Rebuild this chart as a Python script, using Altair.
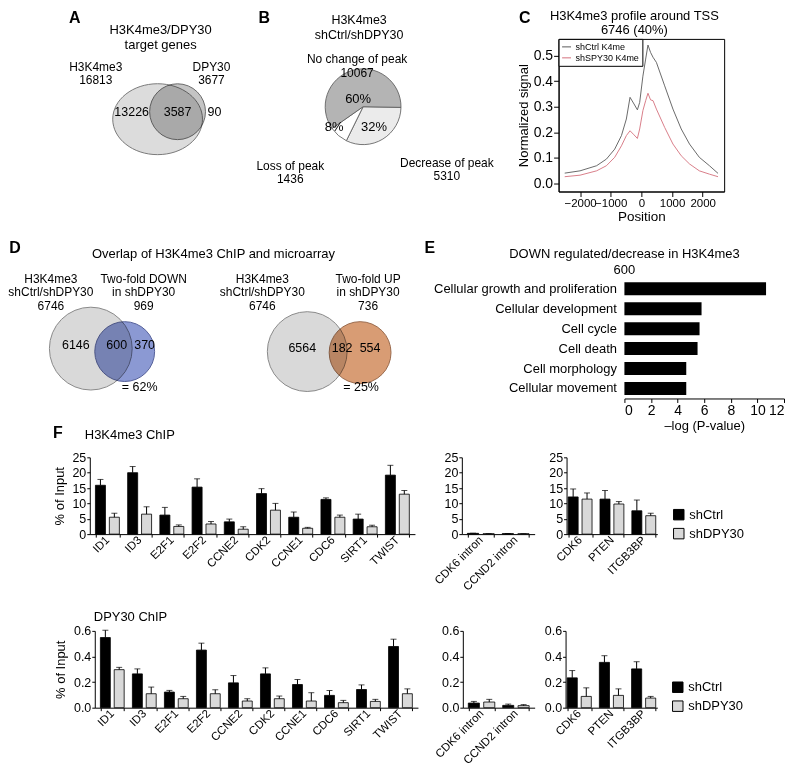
import math
import altair as alt
import pandas as pd

FONT = "Liberation Sans"

# ---------------- data ----------------
# Panel A
a_title = ["H3K4me3/DPY30", "target genes"]
a_sets = ["H3K4me3", "DPY30"]
a_totals = [16813, 3677]
a_regions = [13226, 3587, 90]

# Panel B
b_title = ["H3K4me3", "shCtrl/shDPY30"]
b_cats = ["Decrease of peak", "Loss of peak", "No change of peak"]
b_counts = [5310, 1436, 10067]
b_pct = [32, 8, 60]

# Panel C
c_title = ["H3K4me3 profile around TSS", "6746 (40%)"]
c_series = ["shCtrl K4me", "shSPY30 K4me"]
c_pos = [-2500, -2000, -1460, -1140, -870, -650, -490, -370, -240, -130, -55, 50,
         140, 215, 300, 380, 490, 760, 1030, 1300, 1570, 1890, 2220, 2500]
c_ctrl = [0.040, 0.049, 0.069, 0.095, 0.134, 0.187, 0.252, 0.337, 0.311, 0.288, 0.317, 0.420,
          0.487, 0.542, 0.513, 0.494, 0.474, 0.382, 0.291, 0.213, 0.154, 0.102, 0.069, 0.039]
c_sh = [0.026, 0.032, 0.049, 0.069, 0.102, 0.147, 0.187, 0.206, 0.190, 0.176, 0.213, 0.285,
        0.324, 0.353, 0.327, 0.324, 0.291, 0.219, 0.154, 0.108, 0.076, 0.049, 0.036, 0.026]

# Panel D
d_title = "Overlap of H3K4me3 ChIP and microarray"
d_chip = ["H3K4me3", "shCtrl/shDPY30"]
d_chip_total = 6746
d_down = ["Two-fold DOWN", "in shDPY30"]
d_down_total = 969
d_down_regions = [6146, 600, 370]
d_down_pct = 62
d_up = ["Two-fold UP", "in shDPY30"]
d_up_total = 736
d_up_regions = [6564, 182, 554]
d_up_pct = 25

# Panel E
e_title = ["DOWN regulated/decrease in H3K4me3", "600"]
e_terms = ["Cellular growth and proliferation", "Cellular development", "Cell cycle",
           "Cell death", "Cell morphology", "Cellular movement"]
e_vals = [10.65, 5.8, 5.65, 5.5, 4.65, 4.65]

# Panel F
conds = ["shCtrl", "shDPY30"]
f_genes1 = ["ID1", "ID3", "E2F1", "E2F2", "CCNE2", "CDK2", "CCNE1", "CDC6", "SIRT1", "TWIST"]
f_genes2 = ["CDK6 intron", "CCND2 intron"]
f_genes3 = ["CDK6", "PTEN", "ITGB3BP"]

h3_ctrl1 = [15.9, 20.0, 6.2, 15.3, 4.0, 13.2, 5.5, 11.3, 4.9, 19.2]
h3_ctrl1_err = [1.9, 2.0, 2.5, 2.7, 0.9, 1.6, 1.7, 0.5, 1.6, 3.2]
h3_sh1 = [5.5, 6.5, 2.5, 3.3, 1.6, 7.8, 1.9, 5.5, 2.4, 13.0]
h3_sh1_err = [1.3, 2.4, 0.5, 0.8, 0.8, 2.2, 0.3, 0.7, 0.5, 1.2]
h3_ctrl2 = [0.25, 0.15]
h3_ctrl2_err = [0.05, 0.05]
h3_sh2 = [0.12, 0.12]
h3_sh2_err = [0.04, 0.04]
h3_ctrl3 = [12.1, 11.4, 7.6]
h3_ctrl3_err = [2.6, 2.8, 3.5]
h3_sh3 = [11.4, 9.8, 6.0]
h3_sh3_err = [2.0, 0.8, 0.8]

dp_ctrl1 = [0.548, 0.264, 0.122, 0.450, 0.194, 0.264, 0.181, 0.096, 0.142, 0.478]
dp_ctrl1_err = [0.057, 0.039, 0.013, 0.054, 0.057, 0.047, 0.039, 0.038, 0.036, 0.057]
dp_sh1 = [0.297, 0.109, 0.070, 0.109, 0.052, 0.070, 0.052, 0.039, 0.049, 0.109]
dp_sh1_err = [0.018, 0.052, 0.018, 0.031, 0.018, 0.021, 0.065, 0.018, 0.016, 0.038]
dp_ctrl2 = [0.036, 0.018]
dp_ctrl2_err = [0.013, 0.010]
dp_sh2 = [0.044, 0.016]
dp_sh2_err = [0.021, 0.008]
dp_ctrl3 = [0.233, 0.354, 0.303]
dp_ctrl3_err = [0.057, 0.052, 0.056]
dp_sh3 = [0.088, 0.096, 0.075]
dp_sh3_err = [0.067, 0.051, 0.013]

# ---------------- layout (page pixels) ----------------
CANVAS1 = (8, 559, 40, 193)
CANVAS2 = (8, 625, 278, 398)
SPACER3 = (8, 89, 457, 534)
SPACER4 = (8, 94, 630, 707)

ELLIPSE = "M-1,0A1,0.79,0,1,1,1,0A1,0.79,0,1,1,-1,0Z"


def scales(box):
    x0, x1, y0, y1 = box
    xs = alt.Scale(domain=[x0, x1], nice=False, zero=False)
    ys = alt.Scale(domain=[y0, y1], nice=False, zero=False, reverse=True)
    return xs, ys


def text_layer(rows, box, align="center", weight="normal"):
    xs, ys = scales(box)
    df = pd.DataFrame(rows, columns=["text", "x", "y", "fs"])
    return alt.Chart(df).mark_text(align=align, baseline="middle", fontWeight=weight,
                                   color="black", font=FONT).encode(
        x=alt.X("x:Q", scale=xs, axis=None),
        y=alt.Y("y:Q", scale=ys, axis=None),
        text="text:N",
        size=alt.Size("fs:Q", scale=None),
    )


def circle_layer(rows, box, shape="circle", blend=None):
    xs, ys = scales(box)
    df = pd.DataFrame(rows, columns=["x", "y", "d", "fill", "stroke"])
    df["s"] = df["d"] ** 2
    kw = dict(filled=True, opacity=1, strokeWidth=1, shape=shape)
    if blend:
        kw["blend"] = blend
    return alt.Chart(df).mark_point(**kw).encode(
        x=alt.X("x:Q", scale=xs, axis=None),
        y=alt.Y("y:Q", scale=ys, axis=None),
        size=alt.Size("s:Q", scale=None),
        fill=alt.Fill("fill:N", scale=None),
        stroke=alt.Stroke("stroke:N", scale=None),
    )


def lines(items, x, y0, lh, fs):
    return [(t, x, y0 + i * lh, fs) for i, t in enumerate(items)]


# ---------------- canvas 1 : panels A and B ----------------
xs1, ys1 = scales(CANVAS1)
a_big = circle_layer([(157, 120.5, 90, "#dcdcdc", "#7a7a7a")], CANVAS1, shape=ELLIPSE)
a_small = circle_layer([(177, 113, 56, "#c4c4c4", "#6a6a6a")], CANVAS1, blend="multiply")

pie_df = pd.DataFrame({"cat": b_cats, "pct": b_pct, "idx": [0, 1, 2]})
start = math.radians(91)
pie = alt.Chart(pie_df).mark_arc(radius=38, stroke="#555555", strokeWidth=0.8).encode(
    theta=alt.Theta("pct:Q", stack=True, scale=alt.Scale(range=[start, start + 2 * math.pi])),
    order=alt.Order("idx:Q", sort="ascending"),
    fill=alt.Fill("cat:N", scale=alt.Scale(domain=b_cats, range=["#ebebeb", "#ffffff", "#b4b4b4"]),
                  legend=None),
    x=alt.X(datum=363, scale=xs1, axis=None),
    y=alt.Y(datum=108, scale=ys1, axis=None),
)

lab1 = (lines(a_title, 160, 31, 15, 13)
        + lines([a_sets[0], str(a_totals[0])], 95, 68, 13, 12)
        + lines([a_sets[1], str(a_totals[1])], 211, 68, 13, 12)
        + [(str(a_regions[0]), 131, 113, 12.5), (str(a_regions[1]), 177, 113, 12.5),
           (str(a_regions[2]), 214, 113, 12.5)]
        + lines(b_title, 359, 21, 15, 12.5)
        + lines([b_cats[2], str(b_counts[2])], 357, 60, 14, 12)
        + [(f"{b_pct[2]}%", 358, 100, 13), (f"{b_pct[1]}%", 334, 128, 13),
           (f"{b_pct[0]}%", 374, 128, 13)]
        + lines([b_cats[1], str(b_counts[1])], 290, 167, 13, 12)
        + lines([b_cats[0], str(b_counts[0])], 447, 164, 13, 12))
letters1 = [("A", 74, 19, 16), ("B", 264, 19, 16), ("C", 525, 19, 16)]

canvas1 = alt.layer(a_big, a_small, pie, text_layer(lab1, CANVAS1),
                    text_layer(letters1, CANVAS1, weight="bold")).properties(
    width=CANVAS1[1] - CANVAS1[0], height=CANVAS1[3] - CANVAS1[2])

# ---------------- panel C ----------------
c_df = pd.DataFrame({
    "pos": c_pos * 2,
    "sig": c_ctrl + c_sh,
    "series": [c_series[0]] * len(c_pos) + [c_series[1]] * len(c_pos),
})
c_chart = alt.Chart(c_df).mark_line(strokeWidth=0.9).encode(
    x=alt.X("pos:Q", scale=alt.Scale(domain=[-2700, 2700], nice=False, zero=False),
            axis=alt.Axis(values=[-2000, -1000, 0, 1000, 2000], format="d", title="Position",
                          labelFontSize=11.5, titleFontSize=13.5, tickSize=5, labelPadding=1,
                          titlePadding=1, labelOverlap=False, labelFlush=False)),
    y=alt.Y("sig:Q", scale=alt.Scale(domain=[-0.032, 0.566], nice=False, zero=False),
            axis=alt.Axis(values=[0, 0.1, 0.2, 0.3, 0.4, 0.5], format=".1f",
                          title="Normalized signal", labelFontSize=14, titleFontSize=13,
                          tickSize=5, labelPadding=1, titlePadding=3, labelOverlap=False)),
    color=alt.Color("series:N", sort=c_series,
                    scale=alt.Scale(domain=c_series, range=["#5a5a5a", "#d4707c"]),
                    legend=alt.Legend(title=None, orient="top-left", offset=0, padding=3,
                                      strokeColor="black", fillColor="white", labelFontSize=9,
                                      symbolType="stroke", symbolSize=80, symbolStrokeWidth=1,
                                      rowPadding=1, labelOffset=4, cornerRadius=0)),
).properties(
    width=166, height=153,
    view=alt.ViewBackground(stroke="black", strokeWidth=1),
    title=alt.TitleParams(c_title, fontSize=13, fontWeight="normal", anchor="middle",
                          frame="group", dx=-7, offset=1, lineHeight=14.5),
)

# ---------------- canvas 2 : panel D ----------------
d_circ_gray = circle_layer([(90, 348, 83, "#d9d9d9", "#8a8a8a"),
                            (307, 351, 80, "#d9d9d9", "#8a8a8a")], CANVAS2)
d_circ_col = circle_layer([(124, 351, 60, "#8b99d3", "#55609a"),
                           (360, 352, 62, "#d89c74", "#9a6a4d")], CANVAS2, blend="multiply")
lab2 = ([(d_title, 213, 253, 13)]
        + lines(d_chip + [str(d_chip_total)], 50, 278, 13.5, 12)
        + lines(d_down + [str(d_down_total)], 143, 278, 13.5, 12)
        + lines(d_chip + [str(d_chip_total)], 262, 278, 13.5, 12)
        + lines(d_up + [str(d_up_total)], 368, 278, 13.5, 12)
        + [(str(d_down_regions[0]), 75, 344, 12.5), (str(d_down_regions[1]), 116, 344, 12.5),
           (str(d_down_regions[2]), 144, 344, 12.5), (f"= {d_down_pct}%", 139, 387, 12.5),
           (str(d_up_regions[0]), 302, 347, 12.5), (str(d_up_regions[1]), 342, 347, 12.5),
           (str(d_up_regions[2]), 370, 347, 12.5), (f"= {d_up_pct}%", 361, 387, 12.5)])
letters2 = [("D", 14, 247, 16), ("E", 430, 247, 16)]
canvas2 = alt.layer(d_circ_gray, d_circ_col, text_layer(lab2, CANVAS2),
                    text_layer(letters2, CANVAS2, weight="bold")).properties(
    width=CANVAS2[1] - CANVAS2[0], height=CANVAS2[3] - CANVAS2[2])

# ---------------- panel E ----------------
e_df = pd.DataFrame({"term": e_terms, "val": e_vals})
e_chart = alt.Chart(e_df).mark_bar(color="black").encode(
    y=alt.Y("term:N", sort=e_terms, scale=alt.Scale(paddingInner=0.35, paddingOuter=0.175),
            axis=alt.Axis(title=None, domain=False, ticks=False, labelFontSize=13,
                          labelPadding=8, labelLimit=400)),
    x=alt.X("val:Q", scale=alt.Scale(domain=[0, 12], nice=False),
            axis=alt.Axis(values=[0, 2, 4, 6, 8, 10, 12], title="\u2013log (P-value)",
                          labelFontSize=14, titleFontSize=13, tickSize=4, labelPadding=1,
                          titlePadding=2, labelFlush=True, labelOverlap=False)),
).properties(
    width=160, height=120,
    title=alt.TitleParams(e_title, fontSize=13, fontWeight="normal", anchor="middle",
                          frame="group", dx=-80, offset=2, lineHeight=16),
)


# ---------------- panel F ----------------
def bar_panel(genes, ctrl, ctrl_err, sh, sh_err, ymax, yticks, yfmt, width,
              pin, pout, ytitle, title_pad, legend_y):
    rows = []
    for g, v, e in zip(genes, ctrl, ctrl_err):
        rows.append(dict(gene=g, cond=conds[0], val=v, top=v + e))
    for g, v, e in zip(genes, sh, sh_err):
        rows.append(dict(gene=g, cond=conds[1], val=v, top=v + e))
    df = pd.DataFrame(rows)
    x = alt.X("gene:N", sort=genes, scale=alt.Scale(paddingInner=pin, paddingOuter=pout),
              axis=alt.Axis(title=None, labelAngle=-45, labelAlign="right", labelBaseline="middle",
                            tickBand="extent", tickSize=3, labelPadding=1, labelFontSize=11.5))
    xo = alt.XOffset("cond:N", sort=conds, scale=alt.Scale(paddingInner=0.28, paddingOuter=0))
    ys = alt.Scale(domain=[0, ymax], nice=False, zero=True)
    ax = dict(values=yticks, format=yfmt, labelFontSize=12.5, tickSize=3, labelPadding=1,
              labelOverlap=False, tickCount=len(yticks))
    if ytitle:
        ax.update(title=ytitle, titleFontSize=13, titlePadding=title_pad)
    else:
        ax.update(title=None)
    yaxis = alt.Axis(**ax)
    if legend_y is not None:
        leg = alt.Legend(title=None, orient="none", legendX=106, legendY=legend_y,
                         direction="vertical", symbolType="square", symbolSize=110,
                         symbolStrokeColor="black", symbolStrokeWidth=1, labelFontSize=13,
                         rowPadding=4, labelOffset=4)
    else:
        leg = None
    bars = alt.Chart(df).mark_bar(stroke="black", strokeWidth=0.8).encode(
        x=x, xOffset=xo,
        y=alt.Y("val:Q", scale=ys, axis=yaxis),
        fill=alt.Fill("cond:N", sort=conds,
                      scale=alt.Scale(domain=conds, range=["#000000", "#d9d9d9"]), legend=leg),
    )
    err = alt.Chart(df).mark_rule(color="black", strokeWidth=1).encode(
        x=x, xOffset=xo, y=alt.Y("val:Q", scale=ys, axis=yaxis), y2="top:Q")
    cap = alt.Chart(df).mark_tick(color="black", thickness=1, size=6).encode(
        x=x, xOffset=xo, y=alt.Y("top:Q", scale=ys, axis=yaxis))
    return alt.layer(bars, err, cap).properties(width=width, height=77)


def spacer(width, height):
    return text_layer([(" ", width / 2, height / 2, 6)], (0, width, 0, height)).properties(
        width=width, height=height)


t25 = [0, 5, 10, 15, 20, 25]
t06 = [0, 0.2, 0.4, 0.6]

f1a = bar_panel(f_genes1, h3_ctrl1, h3_ctrl1_err, h3_sh1, h3_sh1_err, 25, t25, "d", 326,
                0.257, 0.175, "% of Input", 5, None)
f1b = bar_panel(f_genes2, h3_ctrl2, h3_ctrl2_err, h3_sh2, h3_sh2_err, 25, t25, "d", 73,
                0.23, 0.16, None, 0, None)
f1c = bar_panel(f_genes3, h3_ctrl3, h3_ctrl3_err, h3_sh3, h3_sh3_err, 25, t25, "d", 91,
                0.25, 0.05, None, 0, 51)
f2a = bar_panel(f_genes1, dp_ctrl1, dp_ctrl1_err, dp_sh1, dp_sh1_err, 0.6, t06, ".1f", 324,
                0.257, 0.175, "% of Input", 6, None)
f2b = bar_panel(f_genes2, dp_ctrl2, dp_ctrl2_err, dp_sh2, dp_sh2_err, 0.6, t06, ".1f", 72,
                0.23, 0.16, None, 0, None)
f2c = bar_panel(f_genes3, dp_ctrl3, dp_ctrl3_err, dp_sh3, dp_sh3_err, 0.6, t06, ".1f", 92,
                0.25, 0.05, None, 0, 50)

sp3 = alt.layer(text_layer([("F", 57, 433, 16)], SPACER3, weight="bold"),
                text_layer([("H3K4me3 ChIP", 84, 435, 13)], SPACER3, align="left")).properties(
    width=SPACER3[1] - SPACER3[0], height=SPACER3[3] - SPACER3[2])
sp4 = text_layer([("DPY30 ChIP", 93, 616, 13)], SPACER4, align="left").properties(
    width=SPACER4[1] - SPACER4[0], height=SPACER4[3] - SPACER4[2])


def res(ch):
    return ch.resolve_scale(fill="independent", color="independent", xOffset="independent",
                            theta="independent").resolve_legend(fill="independent",
                                                                color="independent")


row1 = res(alt.hconcat(canvas1, c_chart, spacing=0, bounds="flush"))
row2 = res(alt.hconcat(canvas2, e_chart, spacing=0, bounds="flush"))
row3 = res(alt.hconcat(sp3, f1a, spacer(47, 77), f1b, spacer(32, 77), f1c,
                       spacing=0, bounds="flush"))
row4 = res(alt.hconcat(sp4, f2a, spacer(45, 77), f2b, spacer(31, 77), f2c,
                       spacing=0, bounds="flush"))

upper = res(alt.vconcat(row1, row2, spacing=15.5))
lower = res(alt.vconcat(row3, row4, spacing=18))
chart = res(alt.vconcat(upper, lower, spacing=-7.5)).properties(padding=0)

chart = chart.configure(font=FONT).configure_view(stroke=None).configure_axis(
    labelFont=FONT, titleFont=FONT, labelColor="black", titleColor="black",
    domainColor="black", tickColor="black", grid=False, titleFontWeight="normal",
).configure_legend(labelFont=FONT, labelColor="black").configure_title(
    font=FONT, fontWeight="normal", color="black")

chart.save("out.html", embed_options={"renderer": "svg", "actions": False})
